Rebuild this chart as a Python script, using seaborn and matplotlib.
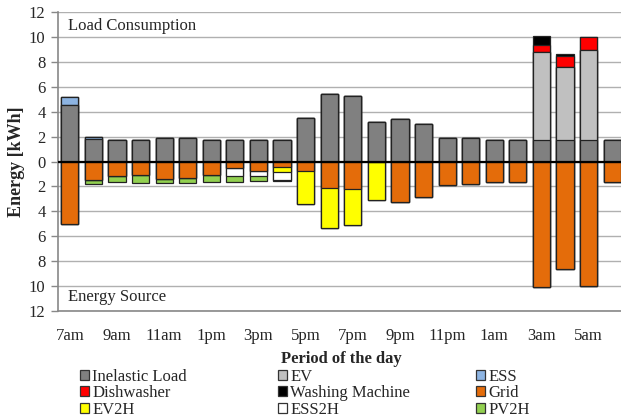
import numpy as np
import pandas as pd
import matplotlib
matplotlib.use("Agg")
import matplotlib.pyplot as plt
import matplotlib.ticker as ticker
from matplotlib.patches import Patch
import seaborn as sns

# Timer
hours = ['7am', '8am', '9am', '10am', '11am', '12pm', '1pm', '2pm', '3pm', '4pm',
         '5pm', '6pm', '7pm', '8pm', '9pm', '10pm', '11pm', '12am', '1am', '2am',
         '3am', '4am', '5am', '6am']
tick_labels = ['7am', '9am', '11am', '1pm', '3pm', '5pm', '7pm', '9pm', '11pm',
               '1am', '3am', '5am']

# Forbrug (positiv)
inelastic = [4.55, 1.8, 1.76, 1.76, 1.87, 1.87, 1.76, 1.76, 1.76, 1.76, 3.52, 5.39,
             5.23, 3.15, 3.41, 2.99, 1.92, 1.92, 1.76, 1.76, 1.76, 1.76, 1.76, 1.76]
ev = [0] * 20 + [7.0, 5.85, 7.17, 0]
ess = [0.6, 0.15] + [0] * 22
dishwasher = [0] * 20 + [0.58, 0.85, 1.07, 0]
washing = [0] * 20 + [0.77, 0.19, 0, 0]

# Kilder (negativ)
grid = [5.05, 1.5, 1.17, 1.11, 1.43, 1.34, 1.1, 0.53, 0.74, 0.45, 0.79, 2.16,
        2.2, 0, 3.29, 2.86, 1.87, 1.79, 1.63, 1.63, 10.05, 8.66, 10.0, 1.63]
ev2h = [0] * 9 + [0.4, 2.61, 3.21, 2.9, 3.13] + [0] * 10
ess2h = [0, 0, 0, 0, 0, 0, 0, 0.6, 0.46, 0.6] + [0] * 14
pv2h = [0, 0.3, 0.46, 0.59, 0.27, 0.36, 0.56, 0.52, 0.4, 0.12] + [0] * 14

# Farver
GRAA = '#808080'
LYSGRAA = '#c0c0c0'
BLAA = '#8db4e2'
ROED = '#ff0000'
SORT = '#000000'
ORANGE = '#e46c0a'
GUL = '#ffff00'
HVID = '#ffffff'
GROEN = '#92d050'

FS = 12

sns.set_style("white")
plt.rcParams['font.family'] = ['Liberation Serif', 'DejaVu Serif']
plt.rcParams['font.size'] = FS

fig = plt.figure(figsize=(6.21, 4.19), dpi=100)
ax = fig.add_axes([58 / 621, 108 / 419, 566 / 621, 299 / 419])

df = pd.DataFrame({'hour': hours})

# stablede søjler via kumulative summer (største først)
pos_series = [(inelastic, GRAA), (ev, LYSGRAA), (ess, BLAA), (dishwasher, ROED), (washing, SORT)]
neg_series = [(grid, ORANGE), (ev2h, GUL), (ess2h, HVID), (pv2h, GROEN)]

for series in (pos_series, neg_series):
    sign = 1 if series is pos_series else -1
    cum = np.cumsum([s for s, _ in series], axis=0) * sign
    for i in range(len(series) - 1, -1, -1):
        df['val'] = cum[i]
        sns.barplot(data=df, x='hour', y='val', order=hours, color=series[i][1],
                    saturation=1, errorbar=None, width=0.73, edgecolor='#222222',
                    linewidth=0.9, ax=ax, zorder=3)

ax.axhline(0, color='black', lw=1.6, zorder=4)

ax.set_ylim(-12, 12)
ax.set_xlim(-0.5, 23.5)
ax.set_yticks(np.arange(-12, 13, 2))
ax.yaxis.set_major_formatter(ticker.FuncFormatter(lambda v, p: f'{abs(v):.0f}'))
ax.yaxis.grid(True, color='#b0b0b0', lw=1, zorder=0)
ax.set_axisbelow(True)

ax.set_xticks(range(0, 24, 2))
ax.set_xticklabels(tick_labels)
ax.set_xticks(np.arange(-0.5, 24, 2), minor=True)
ax.tick_params(axis='x', which='major', length=0, pad=12, labelsize=FS)
ax.tick_params(axis='x', which='minor', length=5, color='#888888', width=1)
ax.tick_params(axis='y', length=5, color='#888888', width=1, pad=4, labelsize=FS, left=True)

for side in ['top', 'right']:
    ax.spines[side].set_visible(False)
for side in ['left', 'bottom']:
    ax.spines[side].set_color('#888888')
    ax.spines[side].set_linewidth(1.2)

ax.set_xlabel("Period of the day", fontweight='bold', fontsize=FS, labelpad=5)
ax.set_ylabel("Energy [kWh]", fontweight='bold', fontsize=13, labelpad=3)

ax.text(-0.07, 10.9, "Load Consumption", va='center', ha='left', fontsize=FS)
ax.text(-0.07, -10.9, "Energy Source", va='center', ha='left', fontsize=FS)

# Legend i tre kolonner
kolonner = [
    [('Inelastic Load', GRAA), ('Dishwasher', ROED), ('EV2H', GUL)],
    [('EV', LYSGRAA), ('Washing Machine', SORT), ('ESS2H', HVID)],
    [('ESS', BLAA), ('Grid', ORANGE), ('PV2H', GROEN)],
]
for x0, kol in zip([80, 278, 476], kolonner):
    handles = [Patch(facecolor=c, edgecolor='#333333', linewidth=0.9) for _, c in kol]
    fig.legend(handles, [n for n, _ in kol], loc='upper left',
               bbox_to_anchor=(x0 / 621, 1 - 369 / 419), frameon=False,
               borderpad=0, borderaxespad=0, handlelength=0.55, handleheight=0.55,
               handletextpad=0.2, labelspacing=0.02, fontsize=FS)

fig.savefig("out.png", dpi=100)
